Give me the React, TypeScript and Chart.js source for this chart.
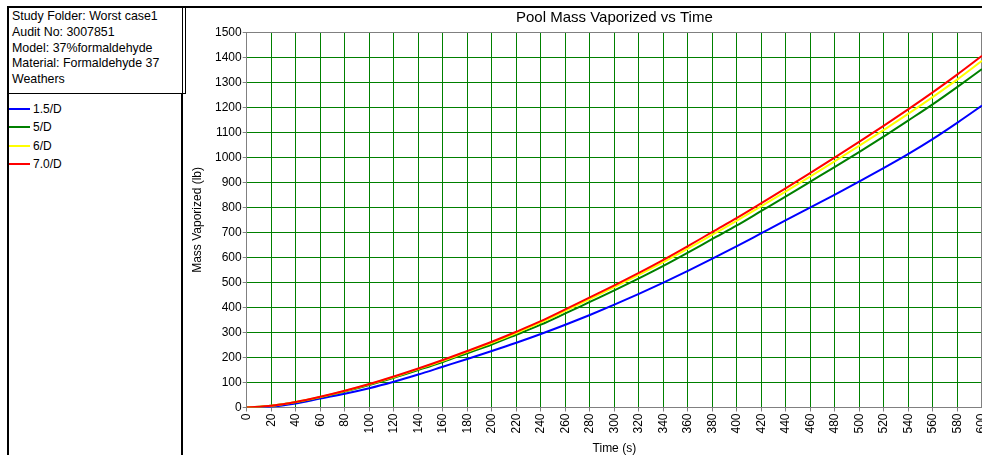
import React, { useEffect, useRef } from "react";
import { Chart, registerables } from "chart.js";

Chart.register(...registerables);

const FONT = '"Liberation Sans", Arial, sans-serif';

const chartTitle = "Pool Mass Vaporized vs Time";
const xTitle = "Time (s)";
const yTitle = "Mass Vaporized (lb)";

const infoLines = [
  "Study Folder: Worst case1",
  "Audit No: 3007851",
  "Model: 37%formaldehyde",
  "Material: Formaldehyde 37",
  "Weathers",
];

const times = [0, 20, 40, 60, 80, 100, 120, 140, 160, 180, 200, 220, 240, 260, 280, 300, 320, 340, 360, 380, 400, 420, 440, 460, 480, 500, 520, 540, 560, 580, 600];

const series15D = [0, 3, 16, 36, 55, 77, 103, 132, 163, 194, 226, 259, 294, 331, 370, 411, 454, 499, 546, 595, 645, 697, 749, 800, 851, 904, 958, 1014, 1074, 1139, 1207];
const series5D = [0, 7, 21, 41, 64, 90, 119, 150, 182, 217, 252, 291, 331, 376, 422, 468, 516, 566, 619, 674, 728, 786, 844, 903, 962, 1022, 1084, 1148, 1213, 1282, 1353];
const series6D = [0, 7, 22, 42, 66, 93, 122, 154, 187, 223, 259, 298, 340, 386, 433, 481, 530, 581, 635, 691, 747, 805, 864, 924, 985, 1047, 1110, 1175, 1242, 1312, 1386];
const series70D = [0, 7, 22, 43, 67, 94, 124, 156, 190, 226, 263, 303, 345, 392, 440, 488, 538, 590, 645, 702, 758, 817, 877, 938, 1000, 1063, 1127, 1193, 1261, 1332, 1406];

const seriesNames = ["1.5/D", "5/D", "6/D", "7.0/D"];
const seriesColors = ["#0000ff", "#008000", "#ffff00", "#ff0000"];
const seriesValues = [series15D, series5D, series6D, series70D];

const borderPlugin = {
  id: "plotBorder",
  beforeDatasetsDraw(chart: any) {
    const { ctx, chartArea } = chart;
    ctx.save();
    ctx.strokeStyle = "#808080";
    ctx.lineWidth = 1;
    ctx.beginPath();
    ctx.moveTo(chartArea.left, Math.round(chartArea.top) + 0.5);
    ctx.lineTo(chartArea.right, Math.round(chartArea.top) + 0.5);
    ctx.stroke();
    ctx.lineWidth = 2;
    ctx.beginPath();
    ctx.moveTo(Math.round(chartArea.right), chartArea.top);
    ctx.lineTo(Math.round(chartArea.right), chartArea.bottom);
    ctx.stroke();
    ctx.restore();
  },
};

export default function App() {
  const canvasRef = useRef<HTMLCanvasElement | null>(null);

  useEffect(() => {
    const canvas = canvasRef.current;
    if (!canvas) return;
    const order = [3, 2, 1, 0];
    const datasets = order.map((i) => ({
      label: seriesNames[i],
      data: times.map((t, k) => ({ x: t, y: seriesValues[i][k] })),
      borderColor: seriesColors[i],
      backgroundColor: seriesColors[i],
      borderWidth: 2,
      pointRadius: 0,
      cubicInterpolationMode: "monotone",
      fill: false,
    }));
    const tickFont = { family: FONT, size: 12 };
    const chart = new Chart(canvas, {
      type: "line",
      data: { datasets },
      plugins: [borderPlugin],
      options: {
        animation: false,
        responsive: false,
        layout: { padding: 0 },
        plugins: {
          legend: { display: false },
          tooltip: { enabled: false },
          title: {
            display: true,
            text: chartTitle,
            fullSize: false,
            color: "#000",
            font: { family: FONT, size: 15, weight: "normal", lineHeight: 1.2 },
            padding: { top: 1, bottom: 5.3 },
          },
        },
        scales: {
          x: {
            type: "linear",
            min: 0,
            max: 600,
            ticks: {
              stepSize: 20,
              autoSkip: false,
              maxRotation: 90,
              minRotation: 90,
              color: "#000",
              font: tickFont,
              padding: 2,
              callback: (v: any) => String(v),
            },
            grid: { color: "#008000", tickColor: "#808080", tickLength: 4, lineWidth: 1 },
            border: { color: "#808080", width: 1 },
            title: {
              display: true,
              text: xTitle,
              color: "#000",
              font: { family: FONT, size: 12, lineHeight: 1 },
              padding: { top: 0, bottom: 0 },
            },
            afterFit: (s: any) => {
              s.height = 47.5;
              s.paddingLeft = 0;
              s.paddingRight = 0;
            },
          },
          y: {
            type: "linear",
            min: 0,
            max: 1500,
            ticks: {
              stepSize: 100,
              color: "#000",
              font: tickFont,
              padding: 1,
              callback: (v: any) => String(v),
            },
            grid: { color: "#008000", tickColor: "#808080", tickLength: 4, lineWidth: 1 },
            border: { color: "#808080", width: 1 },
            title: {
              display: true,
              text: yTitle,
              color: "#000",
              font: { family: FONT, size: 12, lineHeight: 1 },
              padding: { top: 8, bottom: 0 },
            },
            afterFit: (s: any) => {
              s.width = 62.7;
              s.paddingTop = 0;
              s.paddingBottom = 0;
            },
          },
        },
      } as any,
    });
    return () => chart.destroy();
  }, []);

  return (
    <div
      style={{
        position: "fixed",
        left: 0,
        top: 0,
        width: 982,
        height: 455,
        background: "#fff",
        overflow: "hidden",
        fontFamily: FONT,
        color: "#000",
      }}
    >
      <div
        style={{
          position: "absolute",
          left: 7,
          top: 6,
          width: 173,
          height: 84,
          borderTop: "2px solid #000",
          borderLeft: "2px solid #000",
          borderRight: "1px solid #000",
          borderBottom: "1px solid #000",
          padding: "1px 0 0 3px",
          boxSizing: "content-box",
          fontSize: 12.4,
          lineHeight: "15.8px",
          whiteSpace: "nowrap",
        }}
      >
        {infoLines.map((l, i) => (
          <div key={i}>{l}</div>
        ))}
      </div>
      <div
        style={{
          position: "absolute",
          left: 7,
          top: 93,
          width: 172,
          height: 400,
          borderLeft: "2px solid #000",
          borderRight: "2px solid #000",
        }}
      >
        {seriesNames.map((n, i) => (
          <div
            key={n}
            style={{
              position: "absolute",
              left: 0,
              top: 7 + i * 18.3,
              height: 18,
              display: "flex",
              alignItems: "center",
              fontSize: 12,
            }}
          >
            <div style={{ width: 21, height: 2, background: seriesColors[i], marginRight: 3 }} />
            <span>{n}</span>
          </div>
        ))}
      </div>
      <div
        style={{
          position: "absolute",
          left: 182,
          top: 6,
          width: 800,
          height: 460,
          borderTop: "2px solid #000",
          borderLeft: "1px solid #000",
        }}
      />
      <canvas
        ref={canvasRef}
        width={798}
        height={447}
        style={{ position: "absolute", left: 184, top: 8, width: 798, height: 447 }}
      />
    </div>
  );
}
